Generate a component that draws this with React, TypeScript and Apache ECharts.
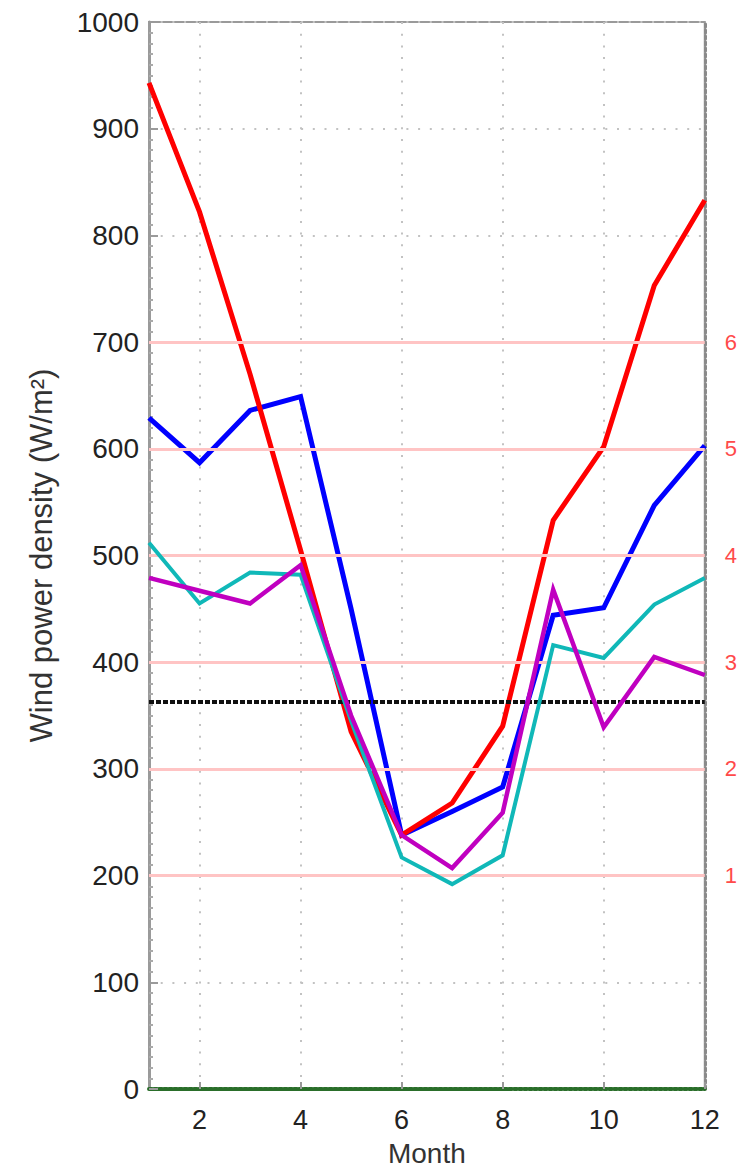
import React, { useEffect, useRef } from "react";
import * as echarts from "echarts";

const months = ["1", "2", "3", "4", "5", "6", "7", "8", "9", "10", "11", "12"];
const redSeries = [943, 822, 670, 505, 335, 238, 268, 340, 533, 602, 753, 833];
const blueSeries = [629, 587, 636, 649, 450, 238, 260, 283, 444, 451, 547, 603];
const cyanSeries = [512, 455, 484, 482, 345, 217, 192, 219, 416, 404, 454, 479];
const magentaSeries = [479, 467, 455, 491, 350, 238, 207, 259, 468, 339, 405, 388];
const pinkLevels = [200, 300, 400, 500, 600, 700];
const thresholdLevel = 363;
const rightTickLabels: Record<number, string> = { 200: "1", 300: "2", 400: "3", 500: "4", 600: "5", 700: "6" };

const FONT = "'Liberation Sans', Arial, sans-serif";

export default function App() {
  const ref = useRef<HTMLDivElement>(null);
  useEffect(() => {
    if (!ref.current) return;
    const chart = echarts.init(ref.current, null, { renderer: "svg" });
    const lineSeries = (name: string, data: number[], color: string, width: number, z: number) => ({
      name,
      type: "line",
      data,
      symbol: "none",
      z,
      lineStyle: { color, width, join: "miter" },
      itemStyle: { color },
    });
    const markData: any[] = [
      ...pinkLevels.map((v) => ({ yAxis: v, lineStyle: { color: "#ffc4c4", width: 3, type: "solid" } })),
      { yAxis: thresholdLevel, lineStyle: { color: "#111111", width: 4, type: [5, 2] } },
    ];
    chart.setOption({
      animation: false,
      backgroundColor: "#ffffff",
      grid: {
        left: 149,
        right: 33,
        top: 22,
        bottom: 86,
        show: true,
        borderColor: "#9a9a9a",
        borderWidth: 2,
        backgroundColor: "transparent",
      },
      xAxis: {
        type: "category",
        data: months,
        boundaryGap: false,
        name: "Month",
        nameLocation: "middle",
        nameGap: 50,
        nameTextStyle: { fontFamily: FONT, fontSize: 28, color: "#333" },
        axisLine: { show: true, lineStyle: { color: "#2a6e2a", width: 4, type: [3, 2] } },
        axisTick: {
          show: true,
          inside: true,
          length: 7,
          interval: (i: number) => i % 2 === 1,
          lineStyle: { color: "#999", width: 2 },
        },
        axisLabel: {
          interval: (i: number) => i % 2 === 1,
          fontFamily: FONT,
          fontSize: 27,
          color: "#222",
          margin: 17,
        },
        splitLine: {
          show: true,
          interval: (i: number) => i % 2 === 1 && i < 11,
          lineStyle: { color: "#c2c2c2", width: 2, type: [2, 9.7] },
        },
      },
      yAxis: [
        {
          type: "value",
          min: 0,
          max: 1000,
          interval: 100,
          name: "Wind power density (W/m²)",
          nameLocation: "middle",
          nameGap: 92,
          nameTextStyle: { fontFamily: FONT, fontSize: 31, color: "#333" },
          axisLine: { show: true, lineStyle: { color: "#9a9a9a", width: 3 } },
          axisTick: { show: true, inside: true, length: 9, lineStyle: { color: "#9a9a9a", width: 2 } },
          minorTick: { show: true, splitNumber: 10, length: 4, lineStyle: { color: "#aaa", width: 2 } },
          axisLabel: {
            fontFamily: FONT,
            fontSize: 28,
            color: "#222",
            margin: 10,
            formatter: (v: number) => String(v),
          },
          splitLine: { show: true, lineStyle: { color: "#c2c2c2", width: 2, type: [2, 9.7] } },
        },
        {
          type: "value",
          min: 0,
          max: 1000,
          interval: 100,
          position: "right",
          axisLine: { show: true, lineStyle: { color: "#8a8a8a", width: 3, type: [3, 3] } },
          axisTick: { show: false },
          axisLabel: {
            fontFamily: FONT,
            fontSize: 22,
            color: "#ff4a4a",
            margin: 20,
            formatter: (v: number) => rightTickLabels[v] || "",
          },
          splitLine: { show: false },
        },
      ],
      series: [
        {
          name: "ref",
          type: "line",
          data: months.map(() => null),
          symbol: "none",
          z: 1,
          silent: true,
          lineStyle: { opacity: 0 },
          markLine: {
            silent: true,
            symbol: "none",
            label: { show: false },
            animation: false,
            data: markData,
          },
        },
        lineSeries("blue", blueSeries, "#0000ff", 5, 3),
        lineSeries("red", redSeries, "#ff0000", 5, 4),
        lineSeries("cyan", cyanSeries, "#10b8b8", 4, 5),
        lineSeries("magenta", magentaSeries, "#c000c0", 4.5, 6),
      ],
    });
    return () => chart.dispose();
  }, []);
  return (
    <div
      ref={ref}
      style={{ position: "fixed", left: 0, top: 0, width: 740, height: 1175, background: "#fff" }}
    />
  );
}
